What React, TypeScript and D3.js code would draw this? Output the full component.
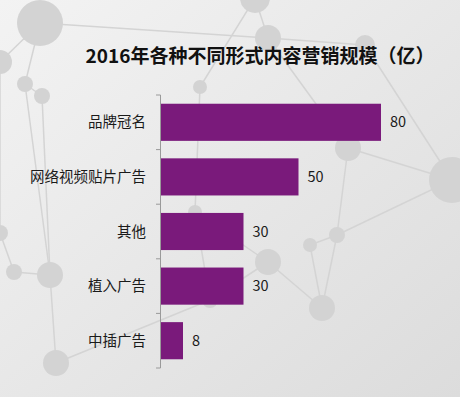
import React from 'react';
import * as d3 from 'd3';

const categories = ['品牌冠名', '网络视频贴片广告', '其他', '植入广告', '中插广告'];
const values = [80, 50, 30, 30, 8];
const title = '2016年各种不同形式内容营销规模（亿）';

// background network decoration: [x, y, r]
const nodes: [number, number, number][] = [
  [40, 23, 23], [255, -2, 15], [268, 38, 13], [0, 62, 12], [25, 84, 8],
  [42, 96, 8], [200, 87, 7], [365, 45, 10], [348, 148, 13], [452, 180, 23],
  [195, 212, 7], [310, 245, 7], [337, 235, 8], [268, 262, 13], [50, 275, 13],
  [14, 272, 8], [322, 308, 13], [56, 363, 13], [210, 300, 8], [0, 233, 8],
];
const links: [number, number][] = [
  [0, 2], [0, 3], [0, 4], [1, 2], [1, 6], [2, 8], [2, 7], [7, 9], [8, 9],
  [8, 12], [12, 11], [12, 16], [11, 16], [9, 12], [13, 16], [13, 10], [10, 6],
  [4, 5], [5, 14], [14, 15], [14, 17], [17, 18], [18, 13], [3, 19], [19, 15],
  [4, 14], [18, 10],
];

const W = 460;
const H = 397;

export default function App() {
  const x = d3.scaleLinear().domain([0, 80]).range([161, 381]);
  const y = d3.scaleBand<string>()
    .domain(categories)
    .range([95, 368])
    .paddingInner(0.32)
    .paddingOuter(0.16);
  const step = y.step();
  const tickYs = d3.range(categories.length + 1).map(i => (y(categories[0]) as number) - (step - y.bandwidth()) / 2 + i * step);

  return (
    <svg width={W} height={H} style={{ position: 'absolute', left: 0, top: 0 }}
      fontFamily='"Noto Sans CJK SC", "Noto Sans", sans-serif'>
      <defs>
        <linearGradient id="bg" x1="0" y1="0" x2="1" y2="1">
          <stop offset="0" stopColor="#f3f3f3" />
          <stop offset="1" stopColor="#dcdcdc" />
        </linearGradient>
      </defs>
      <rect width={W} height={H} fill="url(#bg)" />
      <g>
        {links.map(([a, b], i) => (
          <line key={i} x1={nodes[a][0]} y1={nodes[a][1]} x2={nodes[b][0]} y2={nodes[b][1]}
            stroke="#d4d4d4" strokeWidth={1.5} />
        ))}
        {nodes.map(([cx, cy, r], i) => (
          <circle key={i} cx={cx} cy={cy} r={r} fill="#d3d3d3" />
        ))}
      </g>

      <text x={260} y={63} textAnchor="middle" fontSize={19} fontWeight="bold" fill="#111">{title}</text>

      <line x1={160.5} x2={160.5} y1={tickYs[0]} y2={tickYs[tickYs.length - 1]} stroke="#9a9a9a" />
      {tickYs.map((ty, i) => (
        <line key={i} x1={156} x2={160.5} y1={ty} y2={ty} stroke="#9a9a9a" />
      ))}

      {categories.map((c, i) => {
        const by = y(c) as number;
        const bh = y.bandwidth();
        return (
          <g key={c}>
            <rect x={x(0)} y={by} width={x(values[i]) - x(0)} height={bh} fill="#7a1a7b" />
            <text x={146} y={by + bh / 2} dy="0.35em" textAnchor="end" fontSize={14.5} fill="#1a1a1a">{c}</text>
            <text x={x(values[i]) + 9} y={by + bh / 2} dy="0.35em" fontSize={14.5} fill="#1a1a1a">{values[i]}</text>
          </g>
        );
      })}
    </svg>
  );
}
